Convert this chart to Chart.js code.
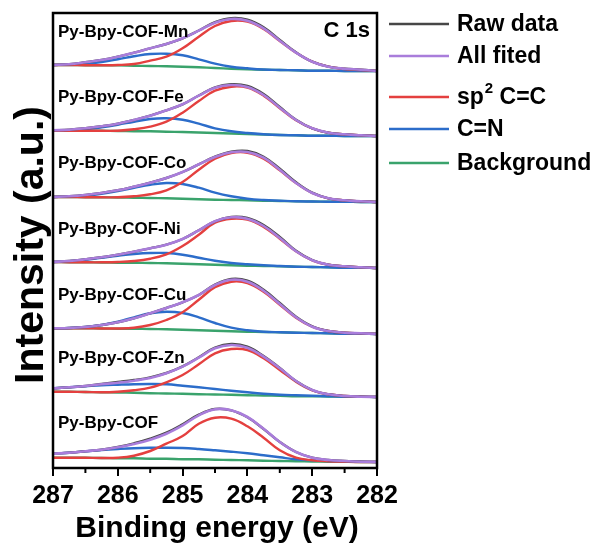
<!DOCTYPE html>
<html>
<head>
<meta charset="utf-8">
<script src="https://cdn.jsdelivr.net/npm/chart.js@4.4.1/dist/chart.umd.min.js"></script>
<style>
  html, body { margin: 0; background: #fff; }
</style>
</head>
<body>
<canvas id="chart" width="600" height="550"></canvas>
<script>
const energy = [287, 286.75, 286.5, 286.25, 286, 285.75, 285.5, 285.25, 285, 284.75, 284.5, 284.25, 284, 283.75, 283.5, 283.25, 283, 282.75, 282.5, 282.25, 282]
const xTicks = [287, 286, 285, 284, 283, 282]

const panelNames = ["Py-Bpy-COF-Mn", "Py-Bpy-COF-Fe", "Py-Bpy-COF-Co", "Py-Bpy-COF-Ni", "Py-Bpy-COF-Cu", "Py-Bpy-COF-Zn", "Py-Bpy-COF"]
const panelOffsets = [397, 332, 266, 200, 134, 71, 6]

const rawMn = [6, 6.7, 8.7, 11, 14.3, 18.3, 22.7, 27, 32.7, 40.5, 48.8, 52.8, 51.3, 43.7, 31, 18.7, 9.3, 4.3, 2.3, 1.3, 0]
const fitMn = [6, 6.7, 8.7, 11, 14.3, 18.3, 22.7, 27, 32.7, 40.3, 48.3, 52, 50.3, 42.7, 30.3, 18.3, 9.3, 4.3, 2.3, 1.3, 0]
const ccMn = [6, 6, 5.8, 5.8, 6, 7, 10.3, 14.3, 22.7, 34.3, 45, 50, 49.3, 42, 30, 18.3, 9.3, 4.3, 2, 1, 0]
const cnMn = [6, 6.3, 7, 9, 11.7, 14.7, 17, 17.3, 15.7, 11.7, 7.3, 4.3, 2.7, 1.5, 1, 0.7, 0.3, 0.2, 0, 0, 0]
const bgMn = [6, 6, 5.8, 5.7, 5.7, 5.3, 5, 4.7, 4.2, 3.7, 3, 2.3, 1.8, 1.3, 1, 0.7, 0.3, 0.2, 0, 0, 0]

const rawFe = [5.7, 6.3, 7.7, 9.7, 12.3, 16, 20.3, 25.7, 31.7, 40.5, 48.7, 51.7, 50, 42, 29, 16.3, 7.7, 3.3, 1.7, 0.7, 0]
const fitFe = [5.7, 6.3, 7.7, 9.7, 12.3, 16, 20.3, 25.7, 31.7, 40.3, 48.3, 51, 49, 41, 28.3, 16, 7.7, 3.3, 1.7, 0.7, 0]
const ccFe = [5.3, 5.3, 5.3, 5.2, 5.3, 6.7, 9.3, 14.3, 23.3, 35, 45.3, 49.3, 48.3, 40.3, 27.7, 15.7, 7.7, 3.3, 1.7, 0.7, 0]
const cnFe = [5.3, 5.7, 6.7, 8.7, 11.3, 14.3, 17, 17.7, 16.3, 12.3, 7.7, 4.7, 3, 1.8, 1, 0.7, 0.3, 0.2, 0, 0, 0]
const bgFe = [5.3, 5.3, 5.3, 5.2, 5, 4.8, 4.7, 4.3, 4, 3.5, 3, 2.5, 2, 1.5, 1, 0.7, 0.3, 0.2, 0, 0, 0]

const rawCo = [5, 5.7, 7, 9, 11.7, 15.3, 19.3, 24, 30, 37.7, 45.3, 50.3, 51, 45.3, 33.3, 19.7, 9.3, 3.7, 1.7, 0.7, 0]
const fitCo = [5, 5.7, 7, 9, 11.7, 15.3, 19.3, 24, 30, 37.7, 45, 49.7, 50, 44.3, 32.3, 19, 9, 3.7, 1.7, 0.7, 0]
const ccCo = [5, 5, 4.8, 4.7, 4.7, 5.7, 7.7, 11.7, 20, 32.3, 43.3, 49, 49.3, 43.3, 31.7, 19, 9, 3.7, 1.7, 0.7, 0]
const cnCo = [5, 5.3, 6.3, 8.3, 11, 14.3, 17.3, 19, 18, 14.3, 9.3, 5.7, 3.3, 2, 1.3, 0.7, 0.5, 0.3, 0.2, 0, 0]
const bgCo = [5, 5, 4.8, 4.7, 4.5, 4.3, 4, 3.7, 3.3, 2.8, 2.3, 2, 1.7, 1.3, 1, 0.7, 0.5, 0.3, 0.2, 0, 0]

const rawNi = [6, 7, 8.7, 10.7, 13.3, 16.3, 19.7, 23.3, 29, 37.7, 46.7, 51, 50, 43, 31, 17.3, 8, 3.3, 1.7, 0.7, 0]
const fitNi = [6, 7, 8.7, 10.7, 13.3, 16.3, 19.7, 23.3, 29, 37.7, 46.7, 50.7, 49.3, 42, 30, 16.7, 7.7, 3.3, 1.7, 0.7, 0]
const ccNi = [6, 5.8, 5.7, 5.7, 6, 7, 9.3, 13.7, 22, 33.3, 45.3, 49.3, 48.3, 41, 29.3, 16.7, 7.7, 3.3, 1.7, 0.7, 0]
const cnNi = [6, 6.7, 8.3, 10.3, 12.3, 14, 15, 15, 13.3, 10.3, 7.3, 5, 3.7, 2.7, 2, 1.3, 1, 0.7, 0.3, 0.2, 0]
const bgNi = [6, 5.8, 5.7, 5.5, 5.3, 5.2, 5, 4.7, 4.3, 3.8, 3.3, 2.8, 2.3, 2, 1.7, 1.3, 1, 0.7, 0.3, 0.2, 0]

const rawCu = [5.7, 6, 7, 9, 11.7, 15.7, 20.7, 26, 31.7, 39, 49.3, 55, 53.3, 44.3, 31, 17.3, 7.7, 3, 1.3, 0.7, 0]
const fitCu = [5.7, 6, 7, 9, 11.7, 15.7, 20.7, 26, 31.7, 39, 49, 54.3, 52.3, 43.3, 30, 16.7, 7.3, 3, 1.3, 0.7, 0]
const ccCu = [5.7, 5.7, 5.7, 5.5, 5.5, 6.3, 9, 14, 21.7, 34.3, 46.7, 52.3, 51, 42.3, 29.3, 16.3, 7.3, 3, 1.3, 0.7, 0]
const cnCu = [5.7, 6, 7, 9, 12.3, 16.7, 20.7, 22.3, 21, 16.7, 11, 6.3, 3.7, 2.3, 1.7, 1.3, 1, 0.7, 0.3, 0.2, 0]
const bgCu = [5.7, 5.7, 5.7, 5.5, 5.3, 5.2, 5, 4.7, 4.3, 3.8, 3.3, 2.8, 2.3, 2, 1.7, 1.3, 1, 0.7, 0.3, 0.2, 0]

const rawZn = [8.7, 9.7, 11, 13, 15, 17, 19.7, 24, 30.7, 39.7, 49.3, 53, 50.3, 41, 29, 16, 7, 2.7, 1, 0.3, 0]
const fitZn = [8.7, 9.7, 11, 12.7, 14.3, 16.3, 19, 23.7, 30.3, 39.3, 48.7, 52, 49.3, 40.3, 28.7, 16, 7, 2.7, 1, 0.3, 0]
const ccZn = [5.3, 5.2, 5, 4.7, 5.3, 6.7, 9.3, 14.7, 22, 32.7, 43.7, 48, 47, 38.7, 27, 15.3, 6.7, 2.7, 1, 0.3, 0]
const cnZn = [8.7, 9.7, 10.7, 11.7, 12.3, 12.8, 13, 12.7, 11.3, 9.7, 8, 6.3, 4.7, 3.3, 2.3, 1.7, 1.2, 0.7, 0.3, 0.2, 0]
const bgZn = [5.3, 5.2, 5, 4.7, 4.5, 4.2, 3.8, 3.5, 3.2, 2.8, 2.5, 2.2, 1.8, 1.5, 1.2, 0.8, 0.7, 0.5, 0.3, 0.2, 0]

const rawCof = [8.3, 9.3, 10.7, 12.3, 15, 18.7, 23.3, 29.3, 37.7, 47.3, 53, 51.7, 44.7, 33, 20, 10, 4.3, 2, 1, 0.3, 0]
const fitCof = [8.3, 9.3, 10.7, 12.3, 14.7, 18, 22.3, 28.3, 36.7, 46.7, 52.7, 51.7, 45, 33.3, 20, 10, 4.3, 2, 1, 0.3, 0]
const ccCof = [4.3, 4.3, 4.2, 4, 4.3, 6.3, 11, 18.3, 26, 38.3, 44.3, 43.3, 35.7, 24.3, 11.7, 4.3, 1.7, 0.7, 0.3, 0, 0]
const cnCof = [8.3, 9.3, 10.7, 12, 13, 13.8, 14.2, 14.3, 14, 13, 11.7, 10.3, 8.7, 6.7, 4.7, 2.7, 1.7, 1, 0.5, 0.2, 0]
const bgCof = [4.3, 4.3, 4.2, 4, 3.8, 3.7, 3.3, 3.2, 2.8, 2.7, 2.3, 2, 1.7, 1.3, 1, 0.7, 0.5, 0.3, 0.2, 0, 0]

const rawSeries = [rawMn, rawFe, rawCo, rawNi, rawCu, rawZn, rawCof]
const fitSeries = [fitMn, fitFe, fitCo, fitNi, fitCu, fitZn, fitCof]
const ccSeries = [ccMn, ccFe, ccCo, ccNi, ccCu, ccZn, ccCof]
const cnSeries = [cnMn, cnFe, cnCo, cnNi, cnCu, cnZn, cnCof]
const bgSeries = [bgMn, bgFe, bgCo, bgNi, bgCu, bgZn, bgCof]

const legendLabels = ["Raw data", "All fited", "sp2 C=C", "C=N", "Background"]

const colors = {
  raw: "#474747",
  fit: "#a97ddb",
  cc: "#e4403f",
  cn: "#2c6dca",
  bg: "#3aa36c"
}

const FONT = "'Liberation Sans', Arial, sans-serif"

const seriesDefs = [
  { list: fitSeries, color: colors.fit, order: 0, width: 2.6 },
  { list: rawSeries, color: colors.raw, order: 1, width: 2.4 },
  { list: ccSeries, color: colors.cc, order: 2, width: 2.4 },
  { list: cnSeries, color: colors.cn, order: 3, width: 2.4 },
  { list: bgSeries, color: colors.bg, order: 4, width: 2.4 }
]

const datasets = []
panelOffsets.forEach((offset, p) => {
  seriesDefs.forEach(def => {
    datasets.push({
      data: energy.map((e, i) => ({ x: e, y: offset + def.list[p][i] })),
      borderColor: def.color,
      borderWidth: def.width,
      pointRadius: 0,
      tension: 0.4,
      fill: false,
      order: def.order
    })
  })
})

const decorations = {
  id: "decorations",
  afterDraw(chart) {
    const { ctx, chartArea, scales } = chart
    const x = scales.x
    const y = scales.y
    ctx.save()

    ctx.strokeStyle = "#000"
    ctx.lineWidth = 2.5
    ctx.strokeRect(chartArea.left, chartArea.top, chartArea.right - chartArea.left, chartArea.bottom - chartArea.top)

    ctx.lineWidth = 2
    for (let v = 282.5; v < 287; v += 1) {
      const px = x.getPixelForValue(v)
      ctx.beginPath()
      ctx.moveTo(px, chartArea.bottom)
      ctx.lineTo(px, chartArea.bottom + 5)
      ctx.stroke()
    }

    ctx.fillStyle = "#000"
    ctx.textAlign = "left"
    ctx.textBaseline = "alphabetic"
    ctx.font = "bold 17px " + FONT
    panelNames.forEach((name, p) => {
      ctx.fillText(name, chartArea.left + 5, y.getPixelForValue(panelOffsets[p] + 34))
    })

    ctx.textAlign = "right"
    ctx.font = "bold 22px " + FONT
    ctx.fillText("C 1s", chartArea.right - 7, 37)

    ctx.textAlign = "center"
    ctx.font = "bold 30px " + FONT
    ctx.fillText("Binding energy (eV)", (chartArea.left + chartArea.right) / 2 + 2, 537)

    // y title is drawn larger than the x title in the source figure
    ctx.save()
    ctx.translate(43, 245)
    ctx.rotate(-Math.PI / 2)
    ctx.font = "bold 41px " + FONT
    ctx.fillText("Intensity (a.u.)", 0, 0)
    ctx.restore()

    const legendColors = [colors.raw, colors.fit, colors.cc, colors.cn, colors.bg]
    const rows = [24, 56, 97, 129, 163]
    ctx.textAlign = "left"
    ctx.textBaseline = "middle"
    legendLabels.forEach((label, i) => {
      ctx.strokeStyle = legendColors[i]
      ctx.lineWidth = 2.5
      ctx.beginPath()
      ctx.moveTo(389, rows[i])
      ctx.lineTo(449, rows[i])
      ctx.stroke()
      ctx.font = "bold 23px " + FONT
      if (label.startsWith("sp2")) {
        ctx.fillText("sp", 457, rows[i] + 1)
        const w = ctx.measureText("sp").width
        ctx.font = "bold 15px " + FONT
        ctx.fillText("2", 457 + w + 1, rows[i] - 8)
        const w2 = ctx.measureText("2").width
        ctx.font = "bold 23px " + FONT
        ctx.fillText(" C=C", 457 + w + w2 + 1, rows[i] + 1)
      } else {
        ctx.fillText(label, 457, rows[i] + 1)
      }
    })

    ctx.restore()
  }
}

new Chart(document.getElementById("chart"), {
  type: "line",
  data: { datasets },
  options: {
    responsive: false,
    animation: false,
    layout: { padding: { left: 53, right: 223, top: 13, bottom: 0 } },
    plugins: {
      legend: { display: false },
      tooltip: { enabled: false }
    },
    scales: {
      x: {
        type: "linear",
        reverse: true,
        min: 282,
        max: 287,
        afterBuildTicks: scale => { scale.ticks = xTicks.map(v => ({ value: v })) },
        afterFit: scale => { scale.height = 82 },
        border: { display: false },
        grid: { drawOnChartArea: false, drawTicks: true, tickLength: 8, color: "#000", lineWidth: 2 },
        ticks: { color: "#000", padding: 5, maxRotation: 0, font: { family: FONT, size: 25, weight: "bold" } }
      },
      y: {
        display: false,
        min: 0,
        max: 455
      }
    }
  },
  plugins: [decorations]
})
</script>
</body>
</html>
